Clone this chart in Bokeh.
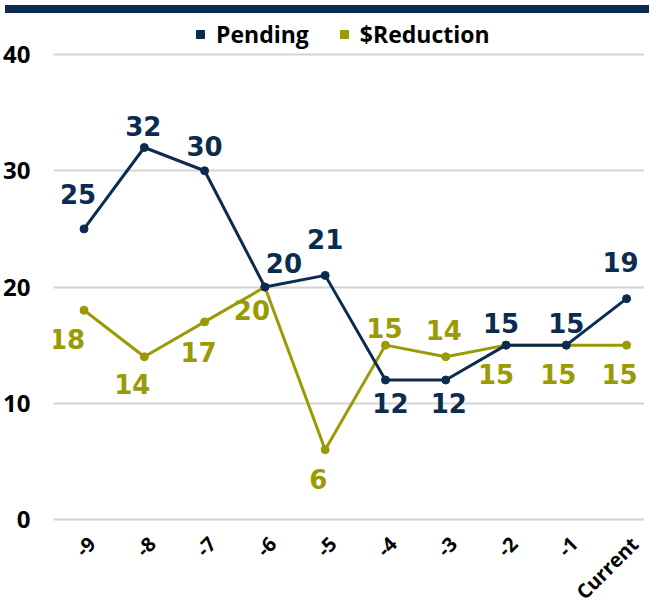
import math
from bokeh.plotting import figure
from bokeh.models import (ColumnDataSource, Range1d, FixedTicker, Legend, LegendItem, Div)
from bokeh.layouts import column
from bokeh.core.properties import value
from bokeh.embed import file_html
from bokeh.resources import INLINE

# ---- data ----
periods = ["-9", "-8", "-7", "-6", "-5", "-4", "-3", "-2", "-1", "Current"]
pending = [25, 32, 30, 20, 21, 12, 12, 15, 15, 19]
reduction = [18, 14, 17, 20, 6, 15, 14, 15, 15, 15]
y_ticks = [0, 10, 20, 30, 40]

# ---- label placement (style, screen px; negative dy = up) ----
pending_dx = [-6, -1, 0, 19, 0, 5, 3, -5, 0, -6]
pending_dy = [-35, -22, -25, -24, -36, 23, 23, -22, -22, -37]
reduction_dx = [-17, -12, -6, -13, -7, -1, -2, -10, -8, -7]
reduction_dy = [29, 27, 30, 23, 29, -17, -27, 29, 29, 29]

NAVY = "#0c2b50"
OLIVE = "#9a9a05"
W, H = 644, 587

xs = list(range(len(periods)))

p = figure(width=W, height=H, output_backend="svg", toolbar_location=None,
           x_range=Range1d(-0.5065, 9.297), y_range=Range1d(-7.398, 43.097),
           min_border_left=44, min_border_right=0, min_border_top=0,
           min_border_bottom=0)
p.outline_line_color = None
p.background_fill_color = "white"
p.border_fill_color = "white"

p.xaxis.visible = False

p.yaxis.ticker = FixedTicker(ticks=y_ticks)
p.yaxis.major_label_text_font = "Open Sans"
p.yaxis.major_label_text_font_style = "bold"
p.yaxis.major_label_text_font_size = "24px"
p.yaxis.major_label_text_color = "black"
p.yaxis.axis_line_color = None
p.yaxis.major_tick_line_color = None
p.yaxis.minor_tick_line_color = None
p.yaxis.major_label_standoff = 17

p.xgrid.grid_line_color = None
p.ygrid.ticker = FixedTicker(ticks=y_ticks)
p.ygrid.grid_line_color = "#d4d4d4"
p.ygrid.grid_line_width = 2

# category labels along the bottom (rotated)
src_x = ColumnDataSource(dict(x=xs, y=[0] * len(xs), lab=periods))
p.text("x", "y", text="lab", source=src_x, x_offset=8, y_offset=21,
       angle=math.pi / 4, text_color="black", text_font=value("Open Sans"),
       text_font_style="bold", text_font_size="20px", text_align="right",
       text_baseline="middle")

src_p = ColumnDataSource(dict(x=xs, y=pending, lab=[str(v) for v in pending],
                              dx=pending_dx, dy=pending_dy))
src_r = ColumnDataSource(dict(x=xs, y=reduction, lab=[str(v) for v in reduction],
                              dx=reduction_dx, dy=reduction_dy))

keys = {}
for src, col in ((src_r, OLIVE), (src_p, NAVY)):
    p.line("x", "y", source=src, line_color=col, line_width=3)
    p.scatter("x", "y", source=src, size=8, fill_color=col, line_color=col)
    p.text("x", "y", text="lab", source=src, x_offset="dx", y_offset="dy",
           text_color=col, text_font=value("DejaVu Sans"), text_font_style="bold",
           text_font_size="26px", text_align="center", text_baseline="middle")
    # legend key renderer (zero-size squares, only shown in the legend)
    keys[col] = p.scatter("x", "y", source=src, marker="square", size=0,
                          fill_color=col, line_color=col)

legend = Legend(items=[LegendItem(label="Pending", renderers=[keys[NAVY]]),
                       LegendItem(label="$Reduction", renderers=[keys[OLIVE]])],
                location=(137, 555), orientation="horizontal",
                label_text_font="Open Sans", label_text_font_style="bold",
                label_text_font_size="23px", label_text_color="black",
                glyph_width=20, glyph_height=20, label_standoff=6, spacing=25,
                padding=0, margin=0, background_fill_alpha=0, border_line_alpha=0)
p.add_layout(legend, "center")

band = Div(width=W, height=8, styles={"background-color": NAVY})
layout = column(band, p, spacing=0)

open("out.html", "w").write(file_html(layout, INLINE))
